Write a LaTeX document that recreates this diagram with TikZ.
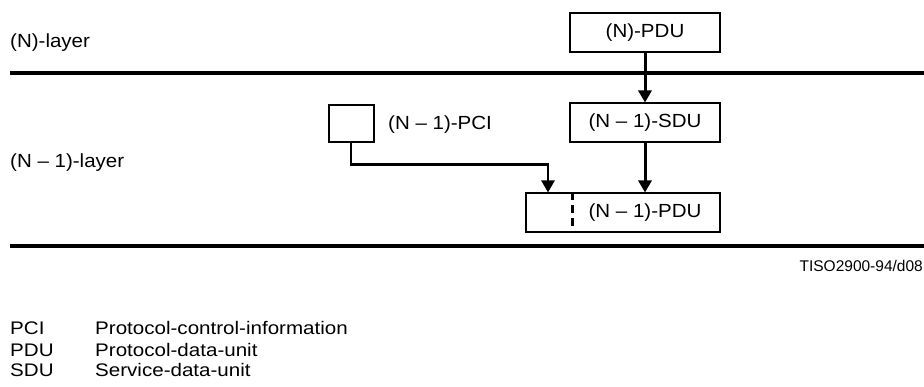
\documentclass[tikz,border=0pt]{standalone}
\usepackage{fontspec}
\setmainfont{Liberation Sans}
\usetikzlibrary{arrows.meta}
\newcommand\widetxt[1]{\scalebox{1.08}[1]{#1}}
\newcommand\widelegend[1]{\scalebox{1.13}[1]{#1}}
\tikzset{
  every node/.style={font=\fontsize{19}{23}\selectfont},
  unitbox/.style={draw, line width=2pt, inner sep=0pt},
  lbl/.style={inner sep=0pt, anchor=base west},
  legend/.style={inner sep=0pt, anchor=base west, font=\fontsize{18.2}{21}\selectfont},
  layerline/.style={line width=4pt},
  flow/.style={line width=3pt, -{Triangle[length=12pt,width=13pt]}},
  pciflow/.style={line width=2.5pt, -{Triangle[length=12pt,width=13pt]}},
  divider/.style={line width=3pt, dash pattern=on 8pt off 5pt},
}
\begin{document}
\begin{tikzpicture}[x=1pt,y=-1pt]
\useasboundingbox (0,0) rectangle (924,387);
% layer lines
\coordinate (l1a) at (10,73);
\coordinate (l1b) at (924,73);
\coordinate (l2a) at (10,246.5);
\coordinate (l2b) at (924,246.5);
\draw[layerline] (l1a) -- (l1b);
\draw[layerline] (l2a) -- (l2b);
% layer labels
\node[lbl] (nlayer) at (10,47.5) {\widetxt{(N)-layer}};
\node[lbl] (n1layer) at (10,167.5) {\widetxt{(N -- 1)-layer}};
% boxes
\node[unitbox, minimum width=150pt, minimum height=39pt] (npdu) at (645,32.5) {\widetxt{(N)-PDU}};
\node[unitbox, minimum width=150pt, minimum height=39pt] (sdu) at (645,123) {\widetxt{(N -- 1)-SDU}};
\node[unitbox, minimum width=45pt, minimum height=37pt] (pci) at (351,123.5) {};
\node[lbl] (pcilabel) at (388,129.5) {\widetxt{(N -- 1)-PCI}};
\node[unitbox, minimum width=194pt, minimum height=39pt] (pdu) at (623,213) {};
\node[inner sep=0pt] (pdutext) at (645,213) {\widetxt{(N -- 1)-PDU}};
\coordinate (divx) at (572,0);
\draw[divider] (pdu.north -| divx) -- (pdu.south -| divx);
% connectors
\draw[flow] (npdu.south) -- (sdu.north);
\draw[flow] (sdu.south) -- (sdu.south |- pdu.north);
\coordinate (bend) at (548,164.5);
\draw[pciflow] (pci.south) |- (bend) -- (bend |- pdu.north);
% figure id
\node[inner sep=0pt, anchor=base east, font=\fontsize{15.5}{18}\selectfont] (figid) at (923,272) {TISO2900-94/d08};
% legend
\node[legend] (k1) at (10,335) {\widelegend{PCI}};
\node[legend] (k2) at (10,356) {\widelegend{PDU}};
\node[legend] (k3) at (10,377) {\widelegend{SDU}};
\node[legend] (v1) at (95,335) {\widelegend{Protocol-control-information}};
\node[legend] (v2) at (95,356) {\widelegend{Protocol-data-unit}};
\node[legend] (v3) at (95,377) {\widelegend{Service-data-unit}};
\end{tikzpicture}
\end{document}
